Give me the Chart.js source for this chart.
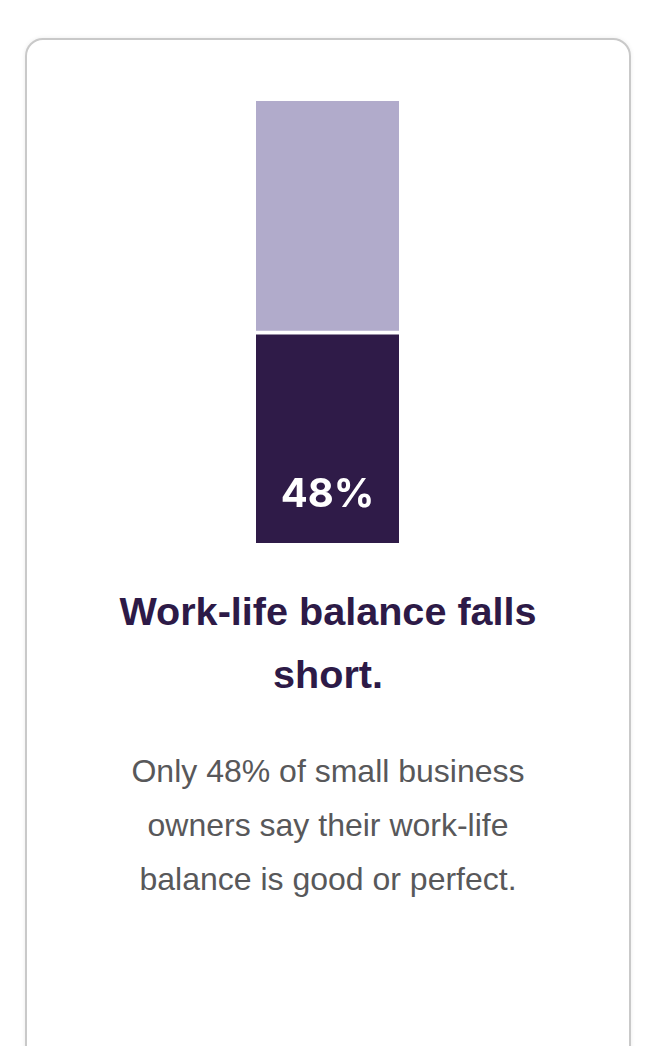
<!DOCTYPE html>
<html>
<head>
<meta charset="utf-8">
<script src="https://cdn.jsdelivr.net/npm/chart.js@4/dist/chart.umd.min.js"></script>
<style>
  html, body { margin: 0; padding: 0; background: #fff; width: 656px; height: 1046px; overflow: hidden; }
  .card {
    position: absolute; left: 25px; top: 38px; width: 602px; height: 1100px;
    border: 2px solid #c9c9c9; border-radius: 18px;
    box-shadow: 0 0 4px rgba(0,0,0,0.08);
    background: #fff;
  }
  .bar-wrap { position: absolute; left: 256px; top: 101px; width: 143px; height: 442px; }
  .title {
    position: absolute; left: 28px; width: 600px; top: 580px;
    text-align: center; font-family: "Liberation Sans", Arial, sans-serif;
    font-weight: bold; font-size: 39.6px; line-height: 63px; color: #2d1a47;
  }
  .body {
    position: absolute; left: 28px; width: 600px; top: 744px;
    text-align: center; font-family: "Liberation Sans", Arial, sans-serif;
    font-size: 32px; line-height: 54px; color: #58585a;
  }
</style>
</head>
<body>
<div class="card"></div>
<div class="bar-wrap"><canvas id="balanceChart"></canvas></div>
<div class="title">Work-life balance falls<br>short.</div>
<div class="body">Only 48% of small business<br>owners say their work-life<br>balance is good or perfect.</div>

<script>
'use strict';

// ── Data ──────────────────────────────────
const categories    = ['Work-life balance'];
const goodOrPerfect = [48];
const theRest       = [52];
const valueLabels   = ['48%'];

// draws the percentage near the bottom of the dark segment
const bottomLabel = {
    id: 'bottomLabel',
    afterDatasetsDraw(chart) {
        const ctx = chart.ctx;
        const meta = chart.getDatasetMeta(0);
        meta.data.forEach((bar, i) => {
            ctx.save();
            ctx.fillStyle = '#ffffff';
            ctx.font = '700 40px Inter, "Noto Sans", sans-serif';
            ctx.textAlign = 'center';
            ctx.textBaseline = 'middle';
            ctx.fillText(valueLabels[i], bar.x, bar.base - 48);
            ctx.restore();
        });
    }
};

new Chart(document.getElementById('balanceChart'), {
    type: 'bar',
    data: {
        labels: categories,
        datasets: [
            {
                label: 'Good or perfect',
                data: goodOrPerfect,
                backgroundColor: '#2f1b48',
                borderColor: '#ffffff',
                borderWidth: { top: 4, left: 0, right: 0, bottom: 0 },
                borderSkipped: false,
                barPercentage: 1,
                categoryPercentage: 1,
            },
            {
                label: 'Other',
                data: theRest,
                backgroundColor: '#b1abcb',
                borderWidth: 0,
                barPercentage: 1,
                categoryPercentage: 1,
            }
        ]
    },
    options: {
        responsive: true,
        maintainAspectRatio: false,
        animation: false,
        layout: { padding: 0 },
        scales: {
            x: { stacked: true, display: false },
            y: { stacked: true, display: false, min: 0, max: 100 }
        },
        plugins: {
            legend: { display: false },
            tooltip: { enabled: false }
        }
    },
    plugins: [bottomLabel]
});
</script>
</body>
</html>
